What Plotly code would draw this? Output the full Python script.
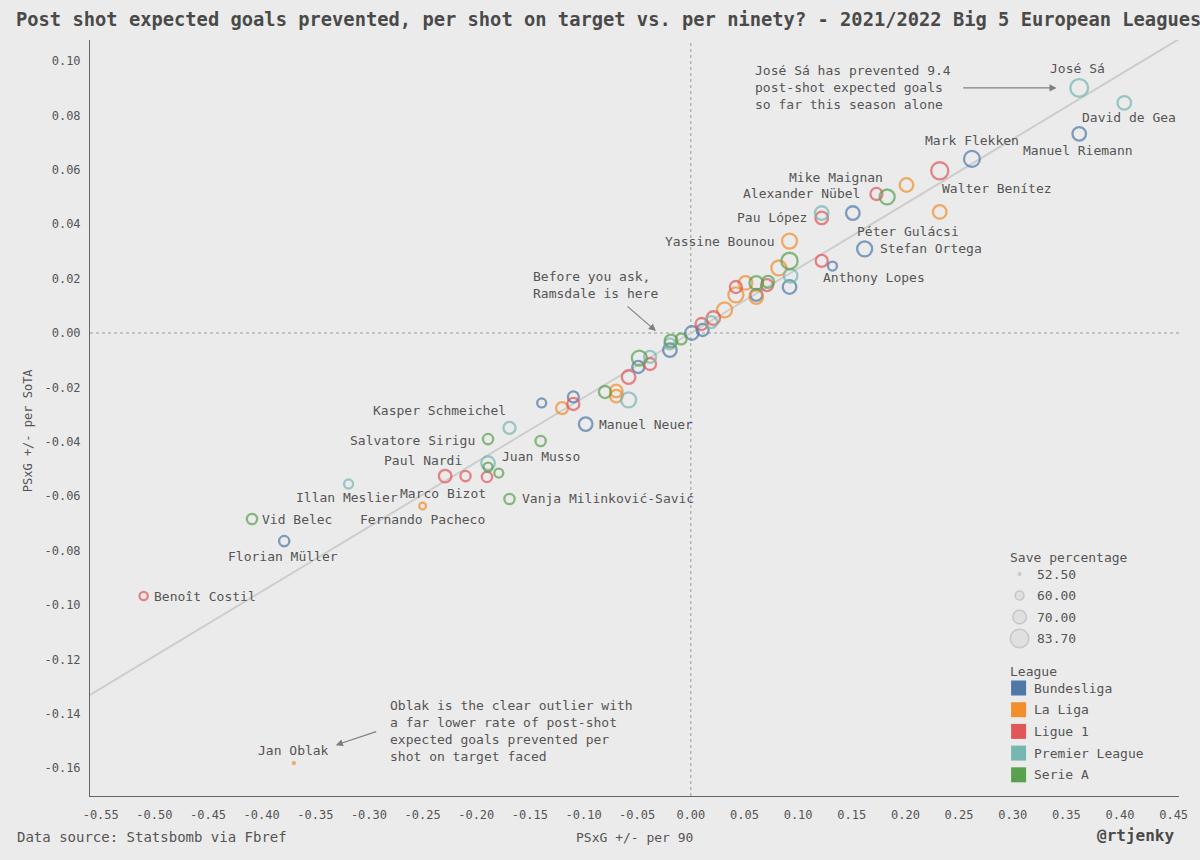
import numpy as np
import plotly.graph_objects as go

# ---------------- data ----------------
players = [
    "José Sá", "David de Gea", "Manuel Riemann", "Mark Flekken", "Walter Benítez",
    "", "Alexander Nübel", "Mike Maignan", "", "",
    "Pau López", "Péter Gulácsi", "Yassine Bounou", "Stefan Ortega", "",
    "Anthony Lopes", "", "", "", "",
    "", "", "", "", "",
    "", "", "", "", "",
    "", "", "", "", "",
    "", "", "", "", "",
    "", "", "", "", "",
    "", "", "", "", "",
    "", "Manuel Neuer", "Juan Musso", "Kasper Schmeichel", "Salvatore Sirigu",
    "", "", "", "Paul Nardi", "Marco Bizot",
    "", "Vanja Milinković-Savić", "Fernando Pacheco", "Illan Meslier", "Vid Belec",
    "Florian Müller", "Benoît Costil", "Jan Oblak",
]
leagues = [
    "Premier League", "Premier League", "Bundesliga", "Bundesliga", "Ligue 1",
    "La Liga", "Ligue 1", "Serie A", "La Liga", "Premier League",
    "Ligue 1", "Bundesliga", "La Liga", "Bundesliga", "Serie A",
    "Ligue 1", "Bundesliga", "La Liga", "Premier League", "Bundesliga",
    "Ligue 1", "La Liga", "Serie A", "Ligue 1", "Serie A",
    "La Liga", "La Liga", "Bundesliga", "La Liga", "Ligue 1",
    "Premier League", "Ligue 1", "Bundesliga", "Bundesliga", "Serie A",
    "Serie A", "Premier League", "Bundesliga", "Premier League", "Serie A",
    "Bundesliga", "Ligue 1", "Ligue 1", "Serie A", "La Liga",
    "La Liga", "Premier League", "Bundesliga", "Ligue 1", "La Liga",
    "Bundesliga", "Bundesliga", "Serie A", "Premier League", "Serie A",
    "Premier League", "Serie A", "Serie A", "Ligue 1", "Ligue 1",
    "Ligue 1", "Serie A", "La Liga", "Premier League", "Serie A",
    "Bundesliga", "Ligue 1", "La Liga",
]
psxg_per90 = [
    0.362, 0.404, 0.362, 0.262, 0.232,
    0.201, 0.173, 0.183, 0.232, 0.122,
    0.122, 0.151, 0.092, 0.162, 0.092,
    0.122, 0.132, 0.082, 0.093, 0.092,
    0.042, 0.051, 0.061, 0.071, 0.072,
    0.042, 0.061, 0.061, 0.0315, 0.021,
    0.019, 0.010, 0.011, 0.001, -0.009,
    -0.0185, -0.0195, -0.0195, -0.038, -0.048,
    -0.049, -0.038, -0.058, -0.080, -0.0695,
    -0.0695, -0.058, -0.1095, -0.1095, -0.120,
    -0.139, -0.098, -0.140, -0.169, -0.189,
    -0.189, -0.189, -0.179, -0.210, -0.229,
    -0.190, -0.169, -0.250, -0.319, -0.409,
    -0.379, -0.510, -0.370,
]
psxg_per_sota = [
    0.0901, 0.0846, 0.0732, 0.0640, 0.0596,
    0.0544, 0.0511, 0.0500, 0.0445, 0.0441,
    0.0423, 0.0441, 0.0338, 0.0309, 0.0265,
    0.0265, 0.0246, 0.0239, 0.0210, 0.0169,
    0.0169, 0.0184, 0.0184, 0.0176, 0.0188,
    0.0140, 0.0132, 0.0140, 0.0085, 0.0055,
    0.0040, 0.0033, 0.0011, 0.0000, -0.0022,
    -0.0029, -0.0040, -0.0063, -0.0088, -0.0092,
    -0.0125, -0.0114, -0.0162, -0.0217, -0.0213,
    -0.0232, -0.0246, -0.0235, -0.0261, -0.0276,
    -0.0257, -0.0335, -0.0397, -0.0349, -0.0390,
    -0.0478, -0.0493, -0.0515, -0.0526, -0.0526,
    -0.0529, -0.0610, -0.0636, -0.0555, -0.0684,
    -0.0765, -0.0967, -0.1581,
]
save_pct = [
    83.7, 71.7, 71.7, 78.0, 82.0,
    71.7, 67.9, 75.5, 71.7, 71.7,
    69.2, 71.7, 75.5, 75.5, 79.3,
    67.9, 61.6, 75.5, 71.7, 71.7,
    67.9, 71.7, 71.7, 67.9, 67.9,
    75.5, 71.7, 67.9, 75.5, 71.7,
    67.9, 67.9, 67.9, 71.7, 65.4,
    69.2, 65.4, 71.7, 67.9, 75.5,
    67.9, 67.9, 71.7, 67.9, 69.2,
    69.2, 75.5, 65.4, 67.9, 67.9,
    61.6, 71.7, 64.1, 67.9, 64.1,
    71.7, 61.6, 61.6, 64.1, 69.2,
    64.1, 64.1, 57.9, 61.6, 64.1,
    64.1, 60.4, 52.5,
]
league_names = ["Bundesliga", "La Liga", "Ligue 1", "Premier League", "Serie A"]
size_legend_values = [52.50, 60.00, 70.00, 83.70]
x_tick_values = [round(-0.55 + 0.05 * i, 2) for i in range(21)]
y_tick_values = [round(-0.16 + 0.02 * i, 2) for i in range(14)]

# ---------------- styles ----------------
league_colors = {
    "Bundesliga": "#4e79a7", "La Liga": "#f28e2b", "Ligue 1": "#e15759",
    "Premier League": "#76b7b2", "Serie A": "#59a14f",
}
MONO = "DejaVu Sans Mono"
TXT = "#555555"
BG = "#ebebeb"
XR = [-0.560, 0.455]
YR = [-0.1702, 0.1077]
LW = 2.3
# label placement (xanchor, dx px, dy px down)
label_pos = {
    "José Sá": ("center", -2, -19), "David de Gea": ("center", 5, 15),
    "Manuel Riemann": ("center", -1, 17), "Mark Flekken": ("center", 0, -18),
    "Walter Benítez": ("left", 0, 18), "Alexander Nübel": ("right", -14, 0),
    "Mike Maignan": ("right", -2, -19), "Pau López": ("right", -13, 0),
    "Péter Gulácsi": ("left", 2, 18), "Yassine Bounou": ("right", -13, 0),
    "Stefan Ortega": ("left", 13, 0), "Anthony Lopes": ("left", -1, 17),
    "Manuel Neuer": ("left", 11, 0), "Kasper Schmeichel": ("right", -2, -17),
    "Salvatore Sirigu": ("right", -11, 1), "Juan Musso": ("center", 0, 16),
    "Paul Nardi": ("right", -2, -16), "Marco Bizot": ("center", -2, 17),
    "Vanja Milinković-Savić": ("left", 10, 0), "Fernando Pacheco": ("center", 0, 13),
    "Illan Meslier": ("center", -2, 14), "Vid Belec": ("left", 8, 0),
    "Florian Müller": ("center", -1, 15), "Benoît Costil": ("left", 8, 0),
    "Jan Oblak": ("center", 0, -13),
}


def outer_diam(s):
    s = np.asarray(s, dtype=float)
    return np.sqrt(16 + 12.3 * (s - 52.5))


x = np.array(psxg_per90)
y = np.array(psxg_per_sota)
lg = np.array(leagues)
sp = np.array(save_pct)

fig = go.Figure()

# trend line (least squares on the data)
slope, icpt = np.polyfit(x, y, 1)
tx = np.array(XR)
fig.add_trace(go.Scatter(x=tx, y=slope * tx + icpt, mode="lines",
                         line=dict(color="#cdcdcd", width=2), hoverinfo="skip",
                         showlegend=False))

for name in league_names:
    m = lg == name
    d = outer_diam(sp[m])
    fig.add_trace(go.Scatter(
        x=x[m], y=y[m], mode="markers", name=name, showlegend=False,
        marker=dict(size=np.maximum(d - LW, 2), color="rgba(0,0,0,0)",
                    line=dict(color=league_colors[name], width=LW)),
    ))

annotations = []
for p, xi, yi in zip(players, psxg_per90, psxg_per_sota):
    if not p:
        continue
    xa, dx, dy = label_pos[p]
    annotations.append(dict(x=xi, y=yi, text=p, showarrow=False, xanchor=xa, yanchor="middle",
                            xshift=dx, yshift=-dy, font=dict(family=MONO, size=13, color=TXT)))

note_font = dict(family=MONO, size=13, color=TXT)
annotations += [
    dict(x=0.0584, y=0.0901, xanchor="left", yanchor="middle", align="left", showarrow=False,
         text="José Sá has prevented 9.4<br>post-shot expected goals<br>so far this season alone",
         font=note_font),
    dict(x=0.341, y=0.0901, ax=-95, ay=0, text="", showarrow=True, arrowhead=2, arrowsize=1.2,
         arrowwidth=1.2, arrowcolor="#808080"),
    dict(x=-0.149, y=0.0178, xanchor="left", yanchor="middle", align="left", showarrow=False,
         text="Before you ask,<br>Ramsdale is here", font=note_font),
    dict(x=-0.0325, y=0.0007, ax=-30, ay=-26, text="", showarrow=True, arrowhead=2, arrowsize=1.2,
         arrowwidth=1.2, arrowcolor="#808080"),
    dict(x=-0.282, y=-0.1463, xanchor="left", yanchor="middle", align="left", showarrow=False,
         text="Oblak is the clear outlier with<br>a far lower rate of post-shot<br>"
              "expected goals prevented per<br>shot on target faced", font=note_font),
    dict(x=-0.331, y=-0.1515, ax=42, ay=-14, text="", showarrow=True, arrowhead=2, arrowsize=1.2,
         arrowwidth=1.2, arrowcolor="#808080"),
]

# ---------------- legends drawn on an overlay pixel-axis ----------------
fig.add_trace(go.Scatter(
    x=[1023] * len(size_legend_values), y=[574 + 21.5 * i for i in range(len(size_legend_values))],
    xaxis="x2", yaxis="y2", mode="markers", showlegend=False, hoverinfo="skip",
    marker=dict(size=np.maximum(outer_diam(size_legend_values) - 1.5, 2.5), color="#dcdcdc",
                line=dict(color="#b8b8b8", width=1.5)),
))
for i, v in enumerate(size_legend_values):
    annotations.append(dict(x=1038, y=574 + 21.5 * i, xref="x2", yref="y2", text=f"{v:.2f}",
                            showarrow=False, xanchor="left", yanchor="middle",
                            font=dict(family=MONO, size=13, color=TXT)))
annotations.append(dict(x=1011, y=557, xref="x2", yref="y2", text="Save percentage", showarrow=False,
                        xanchor="left", yanchor="middle", font=dict(family=MONO, size=13, color=TXT)))
annotations.append(dict(x=1011, y=671, xref="x2", yref="y2", text="League", showarrow=False,
                        xanchor="left", yanchor="middle", font=dict(family=MONO, size=13, color=TXT)))
fig.add_trace(go.Scatter(
    x=[1022] * len(league_names), y=[688 + 21.7 * i for i in range(len(league_names))],
    xaxis="x2", yaxis="y2", mode="markers", showlegend=False, hoverinfo="skip",
    marker=dict(symbol="square", size=15, color=[league_colors[n] for n in league_names]),
))
for i, n in enumerate(league_names):
    annotations.append(dict(x=1035, y=688 + 21.7 * i, xref="x2", yref="y2", text=n,
                            showarrow=False, xanchor="left", yanchor="middle",
                            font=dict(family=MONO, size=13, color=TXT)))

# ---------------- titles / footers ----------------
W_PLOT, H_PLOT = 1093, 756
def px_x(p):
    return (p - 90) / W_PLOT
def px_y(p):
    return (796 - p) / H_PLOT

annotations += [
    dict(x=px_x(14), y=px_y(20), xref="paper", yref="paper", xanchor="left", yanchor="middle",
         showarrow=False, text="<b>Post shot expected goals prevented, per shot on target vs. per ninety? - 2021/2022 Big 5 European Leagues</b>",
         font=dict(family=MONO, size=18.75, color="#4a4a4a")),
    dict(x=px_x(15), y=px_y(837), xref="paper", yref="paper", xanchor="left", yanchor="middle",
         showarrow=False, text="Data source: Statsbomb via Fbref", font=dict(family=MONO, size=14, color=TXT)),
    dict(x=px_x(636), y=px_y(837), xref="paper", yref="paper", xanchor="center", yanchor="middle",
         showarrow=False, text="PSxG +/- per 90", font=dict(family=MONO, size=13, color=TXT)),
    dict(x=px_x(1180), y=px_y(835), xref="paper", yref="paper", xanchor="right", yanchor="middle",
         showarrow=False, text="<b>@rtjenky</b>", font=dict(family=MONO, size=16, color="#4a4a4a")),
    dict(x=px_x(28), y=px_y(430), xref="paper", yref="paper", xanchor="center", yanchor="middle",
         showarrow=False, text="PSxG +/- per SoTA", textangle=-90, font=dict(family=MONO, size=12, color=TXT)),
]

shapes = [
    dict(type="line", xref="x", yref="paper", x0=0, x1=0, y0=0, y1=1,
         line=dict(color="#9a9a9a", width=1, dash="dot"), layer="below"),
    dict(type="line", xref="paper", yref="y", x0=0, x1=1, y0=0, y1=0,
         line=dict(color="#9a9a9a", width=1, dash="dot"), layer="below"),
]

fig.update_layout(
    width=1200, height=860,
    margin=dict(l=90, r=17, t=40, b=64),
    paper_bgcolor=BG, plot_bgcolor=BG,
    showlegend=False,
    font=dict(family=MONO, color=TXT),
    xaxis=dict(range=XR, tickvals=x_tick_values, ticktext=[f"{v:.2f}" for v in x_tick_values],
               showgrid=False, zeroline=False, showline=True, linecolor="#666666", linewidth=1,
               ticks="", tickfont=dict(family=MONO, size=12, color=TXT), ticklabelstandoff=8),
    yaxis=dict(range=YR, tickvals=y_tick_values, ticktext=[f"{v:.2f}" for v in y_tick_values],
               showgrid=False, zeroline=False, showline=True, linecolor="#666666", linewidth=1,
               ticks="", tickfont=dict(family=MONO, size=12, color=TXT), ticklabelstandoff=6),
    xaxis2=dict(range=[90, 1183], domain=[0, 1], overlaying="x", visible=False, fixedrange=True),
    yaxis2=dict(range=[796, 40], domain=[0, 1], overlaying="y", visible=False, fixedrange=True),
    annotations=annotations,
    shapes=shapes,
)

fig.write_html("out.html")
